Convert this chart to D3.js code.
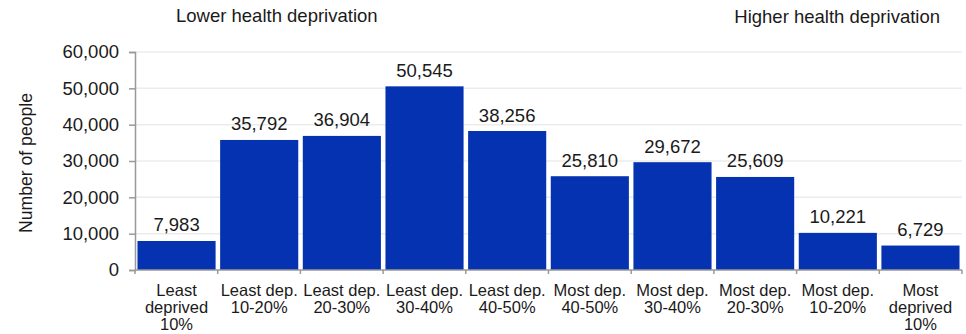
<!DOCTYPE html>
<html>
<head>
<meta charset="utf-8">
<script src="https://cdn.jsdelivr.net/npm/d3@7"></script>
<style>
  body { margin: 0; background: #fff; }
  text { font-family: "Liberation Sans", Arial, sans-serif; fill: #1a1a1a; }
</style>
</head>
<body>
<div id="chart"></div>
<script>
// Data
const categories = ["Least deprived 10%", "Least dep. 10-20%", "Least dep. 20-30%", "Least dep. 30-40%", "Least dep. 40-50%",
  "Most dep. 40-50%", "Most dep. 30-40%", "Most dep. 20-30%", "Most dep. 10-20%", "Most deprived 10%"];
const categoryLines = [["Least", "deprived", "10%"], ["Least dep.", "10-20%"], ["Least dep.", "20-30%"], ["Least dep.", "30-40%"],
  ["Least dep.", "40-50%"], ["Most dep.", "40-50%"], ["Most dep.", "30-40%"], ["Most dep.", "20-30%"],
  ["Most dep.", "10-20%"], ["Most", "deprived", "10%"]];
const people = [7983, 35792, 36904, 50545, 38256, 25810, 29672, 25609, 10221, 6729];
const yTicks = [0, 10000, 20000, 30000, 40000, 50000, 60000];

const W = 966, H = 334;
const margin = { top: 52, right: 4, bottom: 64, left: 135 };
const width = W - margin.left - margin.right;
const height = H - margin.top - margin.bottom;

const svg = d3.select("#chart")
  .append("svg")
    .attr("width", W)
    .attr("height", H);

const g = svg.append("g")
  .attr("transform", `translate(${margin.left},${margin.top})`);

const x = d3.scaleBand()
  .domain(categories)
  .range([0, width])
  .paddingInner(0.055)
  .paddingOuter(0.03);

const y = d3.scaleLinear()
  .domain([0, 60000])
  .range([height, 0]);

// Gridlines
g.selectAll(".grid")
  .data(yTicks.slice(1))
  .enter().append("line")
    .attr("x1", 0).attr("x2", width)
    .attr("y1", d => y(d)).attr("y2", d => y(d))
    .attr("stroke", "#ececec")
    .attr("stroke-width", 1.5);

// Bars
g.selectAll(".bar")
  .data(people)
  .enter().append("rect")
    .attr("x", (d, i) => x(categories[i]))
    .attr("y", d => y(d))
    .attr("width", x.bandwidth())
    .attr("height", d => height - y(d))
    .attr("fill", "#0432b0");

// Value labels
g.selectAll(".val")
  .data(people)
  .enter().append("text")
    .attr("x", (d, i) => x(categories[i]) + x.bandwidth() / 2)
    .attr("y", d => y(d) - 9.5)
    .attr("text-anchor", "middle")
    .style("font-size", "18.5px")
    .text(d => d3.format(",")(d));

// Y axis
const yAxis = g.append("g")
  .call(d3.axisLeft(y).tickValues(yTicks).tickFormat(d3.format(",")).tickSize(6).tickPadding(10));
yAxis.select(".domain").attr("stroke", "#999").attr("stroke-width", 1.5);
yAxis.selectAll(".tick line").attr("stroke", "#999").attr("stroke-width", 1.5);
yAxis.selectAll("text").style("font-size", "18.5px").attr("fill", "#1a1a1a");

// X axis: ticks at band boundaries
const bounds = d3.range(categories.length + 1).map(i => i * width / categories.length);
g.append("line")
  .attr("x1", 0).attr("x2", width)
  .attr("y1", height).attr("y2", height)
  .attr("stroke", "#999").attr("stroke-width", 1.5);
g.selectAll(".xtick")
  .data(bounds)
  .enter().append("line")
    .attr("x1", d => d).attr("x2", d => d)
    .attr("y1", height).attr("y2", height + 4)
    .attr("stroke", "#999").attr("stroke-width", 1.5);

// Category labels
const catText = g.selectAll(".cat")
  .data(categoryLines)
  .enter().append("text")
    .attr("text-anchor", "middle")
    .style("font-size", "16.5px")
    .attr("transform", (d, i) => `translate(${x(categories[i]) + x.bandwidth() / 2},${height + 26})`);
catText.selectAll("tspan")
  .data(d => d)
  .enter().append("tspan")
    .attr("x", 0)
    .attr("dy", (d, i) => i === 0 ? 0 : 16.8)
    .text(d => d);

// Y axis title
svg.append("text")
  .attr("transform", `translate(32,163) rotate(-90)`)
  .attr("text-anchor", "middle")
  .style("font-size", "17.6px")
  .text("Number of people");

// Top annotations
svg.append("text")
  .attr("x", 176).attr("y", 22)
  .style("font-size", "18.5px")
  .text("Lower health deprivation");
svg.append("text")
  .attr("x", 940).attr("y", 23)
  .attr("text-anchor", "end")
  .style("font-size", "18.5px")
  .text("Higher health deprivation");
</script>
</body>
</html>
